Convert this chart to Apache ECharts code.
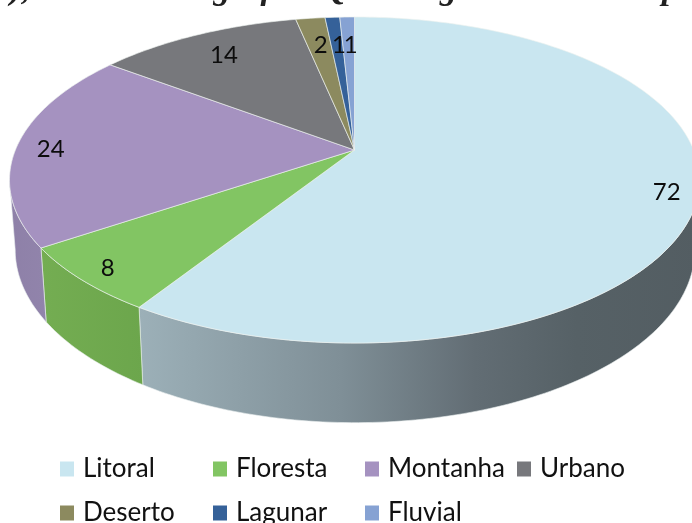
<!DOCTYPE html>
<html><head><meta charset="utf-8">
<style>html,body{margin:0;padding:0;background:#fff}#c{width:692px;height:523px}</style>
<script src="https://cdn.jsdelivr.net/npm/echarts@6/dist/echarts.min.js"></script>
</head><body><div id="c"></div>
<script>
const categories = ['Litoral','Floresta','Montanha','Urbano','Deserto','Lagunar','Fluvial'];
const values = [72,8,24,14,2,1,1];
const topColors = ['#c9e6f0','#82c563','#a592c0','#77787c','#8c8a5f','#356199','#86a2d3'];
const wallStops = {
  Litoral:[[0,'#9cb0b8'],[0.36,'#7f8f97'],[0.6,'#626d74'],[0.78,'#566166'],[1,'#535d62']],
  Floresta:[[0,'#74ad52'],[1,'#6ca64c']],
  Montanha:[[0,'#8e80a8'],[1,'#9184ab']]
};
const labelRadius = [0.9,0.9,0.9,0.8,0.76,0.76,0.76];
const labelNudge = [[5,1],[-5,3],[0,3],[-1,0],[1,-1],[2,0],[2,0]];
const legendPos = [[60,456],[213,456],[365,456],[517,456],[60,500],[213,500],[365,500]];

// projection of the tilted disc onto the page
const P=0.184;
const topPlane={x:354.5,y:150,a:339.1,k:157.5}, lowPlane={x:355,y:218,a:334,k:167};
const VIS0=100.6, VIS1=259.4;
function pt(deg,r,pl){
  const t=deg*Math.PI/180,u=r*Math.sin(t),v=-r*Math.cos(t),d=1-P*v;
  return [pl.x+pl.a*u/d, pl.y+pl.k*v/d];
}
function arc(a,b,pl){
  const n=Math.max(2,Math.ceil(Math.abs(b-a))),o=[];
  for(let i=0;i<=n;i++)o.push(pt(a+(b-a)*i/n,1,pl));
  return o;
}
const total=values.reduce((s,v)=>s+v,0);
let acc=0;
const spans=values.map(v=>{const a=acc/total*360;acc+=v;return [a,acc/total*360];});

function render(idx){
  return function(params,api){
    const [a,b]=spans[idx],children=[];
    const c0=Math.max(a,VIS0),c1=Math.min(b,VIS1);
    if(c1>c0){
      const up=arc(c0,c1,topPlane),lo=arc(c1,c0,lowPlane);
      const xs=up.concat(lo).map(p=>p[0]);
      const stops=wallStops[categories[idx]].map(s=>({offset:s[0],color:s[1]}));
      children.push({type:'polygon',z2:1,shape:{points:up.concat(lo)},
        style:{fill:new echarts.graphic.LinearGradient(Math.min(...xs),0,Math.max(...xs),0,stops,true),
               stroke:'rgba(235,240,240,0.75)',lineWidth:0.8}});
    }
    children.push({type:'polygon',z2:5,shape:{points:[pt(0,0,topPlane)].concat(arc(a,b,topPlane))},
      style:{fill:topColors[idx],stroke:'rgba(238,242,240,0.8)',lineWidth:0.8}});
    const lp=pt((a+b)/2,labelRadius[idx],topPlane);
    children.push({type:'text',z2:10,x:lp[0]+labelNudge[idx][0],y:lp[1]+labelNudge[idx][1],
      style:{text:String(api.value(0)),fill:'#0c0c0c',font:'24px Lato',align:'center',verticalAlign:'middle'}});
    return {type:'group',children};
  };
}

const chart=echarts.init(document.getElementById('c'),null,{renderer:'canvas'});
chart.setOption({
  animation:false,
  backgroundColor:'#fff',
  graphic:[{type:'text',left:-18,top:-27,silent:true,
    style:{text:'(a), Natural Geográfica Qual Lugar de melhor   para',fill:'#222',font:'italic bold 34px "Liberation Serif"'}}],
  legend:categories.map((c,i)=>({
    data:[c],left:legendPos[i][0],top:legendPos[i][1],padding:0,
    icon:'rect',itemWidth:14,itemHeight:15,selectedMode:false,
    textStyle:{fontFamily:'Lato',fontSize:26,color:'#111',padding:[0,0,0,4]}
  })),
  series:categories.map((c,i)=>({
    type:'custom',name:c,coordinateSystem:'none',
    itemStyle:{color:topColors[i]},
    data:[[values[i]]],
    renderItem:render(i),
    silent:true
  }))
});
</script></body></html>
